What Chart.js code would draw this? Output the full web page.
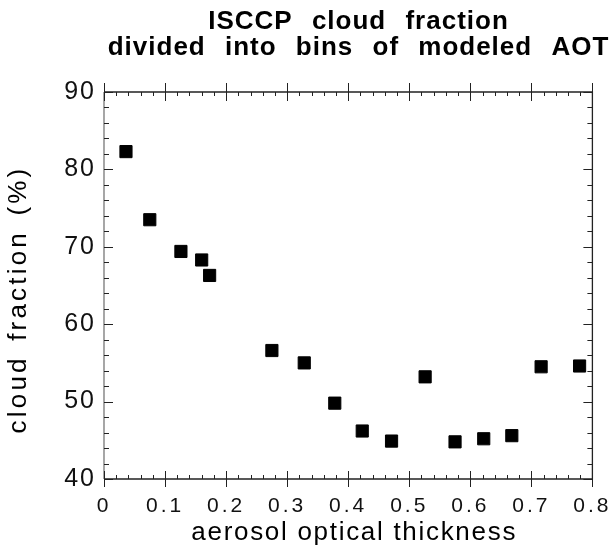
<!DOCTYPE html>
<html><head><meta charset="utf-8">
<script src="https://cdn.jsdelivr.net/npm/chart.js@4/dist/chart.umd.min.js"></script>
<style>html,body{margin:0;padding:0;background:#fff}#wrap{width:614px;height:547px;position:relative}</style>
</head><body><div id="wrap"><canvas id="c" width="614" height="547"></canvas></div>
<script>
const titleLines = ['ISCCP cloud fraction', 'divided into bins of modeled AOT'];
const xAxisTitle = 'aerosol optical thickness';
const yAxisTitle = 'cloud fraction (%)';
const aot = [0.036, 0.075, 0.126, 0.160, 0.173, 0.275, 0.328, 0.378, 0.423, 0.471, 0.526, 0.575, 0.622, 0.668, 0.716, 0.779];
const cloudFraction = [82.3, 73.5, 69.4, 68.3, 66.3, 56.6, 55.0, 49.8, 46.2, 44.9, 53.2, 44.8, 45.2, 45.6, 54.5, 54.6];
const xTickValues = [0, 0.1, 0.2, 0.3, 0.4, 0.5, 0.6, 0.7, 0.8];
const xTickLabels = ['0', '0.1', '0.2', '0.3', '0.4', '0.5', '0.6', '0.7', '0.8'];
const yTickValues = [40, 50, 60, 70, 80, 90];
const yTickLabels = ['40', '50', '60', '70', '80', '90'];
const xMinorStep = 0.02;
const yMinorStep = 2;

Chart.defaults.font.family = "'Liberation Sans', Arial, Helvetica, sans-serif";
Chart.defaults.color = '#111';

const points = aot.map((x, i) => ({x: x, y: cloudFraction[i]}));

const stylePlugin = {
  id: 'stylePlugin',
  beforeDraw(chart) {
    if (chart.$wrapped) return;
    chart.$wrapped = true;
    const ctx = chart.ctx;
    const wrap = (obj, name, fn) => {
      const orig = obj[name].bind(obj);
      obj[name] = function (...a) { ctx.save(); fn(ctx); orig(...a); ctx.restore(); };
    };
    wrap(chart.titleBlock, 'draw', c => { c.letterSpacing = '1px'; c.wordSpacing = '11px'; c.translate(61, 0); });
    wrap(chart.scales.x, 'drawLabels', c => { c.letterSpacing = '3px'; });
    wrap(chart.scales.x, 'drawTitle', c => { c.letterSpacing = '1.7px'; c.translate(6, 0); });
    wrap(chart.scales.y, 'drawLabels', c => { c.letterSpacing = '2px'; });
    wrap(chart.scales.y, 'drawTitle', c => { c.letterSpacing = '3.2px'; c.wordSpacing = '4px'; c.translate(0, 14); });
  },
  afterDraw(chart) {
    const ctx = chart.ctx;
    const {left, right, top, bottom} = chart.chartArea;
    const xs = chart.scales.x, ys = chart.scales.y;
    ctx.save();
    ctx.lineWidth = 1.3;
    ctx.strokeStyle = '#222';
    ctx.beginPath();
    ctx.moveTo(left, top); ctx.lineTo(right, top); ctx.lineTo(right, bottom); ctx.lineTo(left, bottom);
    ctx.stroke();
    ctx.strokeStyle = '#777';
    ctx.beginPath(); ctx.moveTo(left, top); ctx.lineTo(left, bottom); ctx.stroke();
    ctx.strokeStyle = '#222';
    ctx.lineWidth = 1;
    ctx.beginPath();
    const nx = Math.round((xs.max - xs.min) / xMinorStep);
    for (let i = 0; i <= nx; i++) {
      const v = xs.min + i * xMinorStep;
      const px = Math.round(xs.getPixelForValue(v)) + 0.5;
      const major = xTickValues.some(t => Math.abs(t - v) < 1e-9);
      if (major) {
        ctx.moveTo(px, bottom - 8); ctx.lineTo(px, bottom + 8);
        ctx.moveTo(px, top - 9); ctx.lineTo(px, top + 9);
      } else {
        ctx.moveTo(px, bottom); ctx.lineTo(px, bottom - 4);
        ctx.moveTo(px, top); ctx.lineTo(px, top + 4);
      }
    }
    const ny = Math.round((ys.max - ys.min) / yMinorStep);
    for (let i = 0; i <= ny; i++) {
      const v = ys.min + i * yMinorStep;
      const py = Math.round(ys.getPixelForValue(v)) + 0.5;
      const major = yTickValues.some(t => Math.abs(t - v) < 1e-9);
      const len = major ? 9 : 5;
      ctx.moveTo(left, py); ctx.lineTo(left + len, py);
      ctx.moveTo(right, py); ctx.lineTo(right - len, py);
    }
    ctx.stroke();
    ctx.restore();
  }
};

new Chart(document.getElementById('c'), {
  type: 'scatter',
  data: {
    datasets: [{
      data: points,
      pointStyle: 'rect',
      pointRadius: 8.6,
      pointHoverRadius: 8.6,
      backgroundColor: '#000',
      borderColor: '#000',
      borderWidth: 1
    }]
  },
  options: {
    responsive: false,
    animation: false,
    devicePixelRatio: 1,
    layout: {padding: {left: 0, right: 19, top: 0, bottom: 0}},
    plugins: {
      legend: {display: false},
      tooltip: {enabled: false},
      title: {
        display: true,
        text: titleLines,
        color: '#000',
        fullSize: true,
        font: {size: 26, weight: 'bold', lineHeight: 1},
        padding: {top: 9, bottom: 31}
      }
    },
    scales: {
      x: {
        type: 'linear',
        min: 0, max: 0.8,
        afterBuildTicks: s => { s.ticks = xTickValues.map(v => ({value: v})); },
        afterFit: s => { s.height = 68; },
        ticks: {
          callback: (v, i) => xTickLabels[i],
          autoSkip: false, maxRotation: 0,
          font: {size: 21}, color: '#111', padding: 7
        },
        grid: {display: false},
        border: {display: false},
        title: {display: true, text: xAxisTitle, color: '#000', font: {size: 26, lineHeight: 1.1}, padding: 0}
      },
      y: {
        type: 'linear',
        min: 40, max: 90,
        afterBuildTicks: s => { s.ticks = yTickValues.map(v => ({value: v})); },
        afterFit: s => { s.width = 104; },
        ticks: {
          callback: (v, i) => yTickLabels[i],
          autoSkip: false,
          font: {size: 25}, color: '#111', padding: 0
        },
        grid: {display: false},
        border: {display: false},
        title: {display: true, text: yAxisTitle, color: '#000', font: {size: 26, lineHeight: 1.1}, padding: {top: 5, bottom: 0}}
      }
    }
  },
  plugins: [stylePlugin]
});
</script>
</body></html>
